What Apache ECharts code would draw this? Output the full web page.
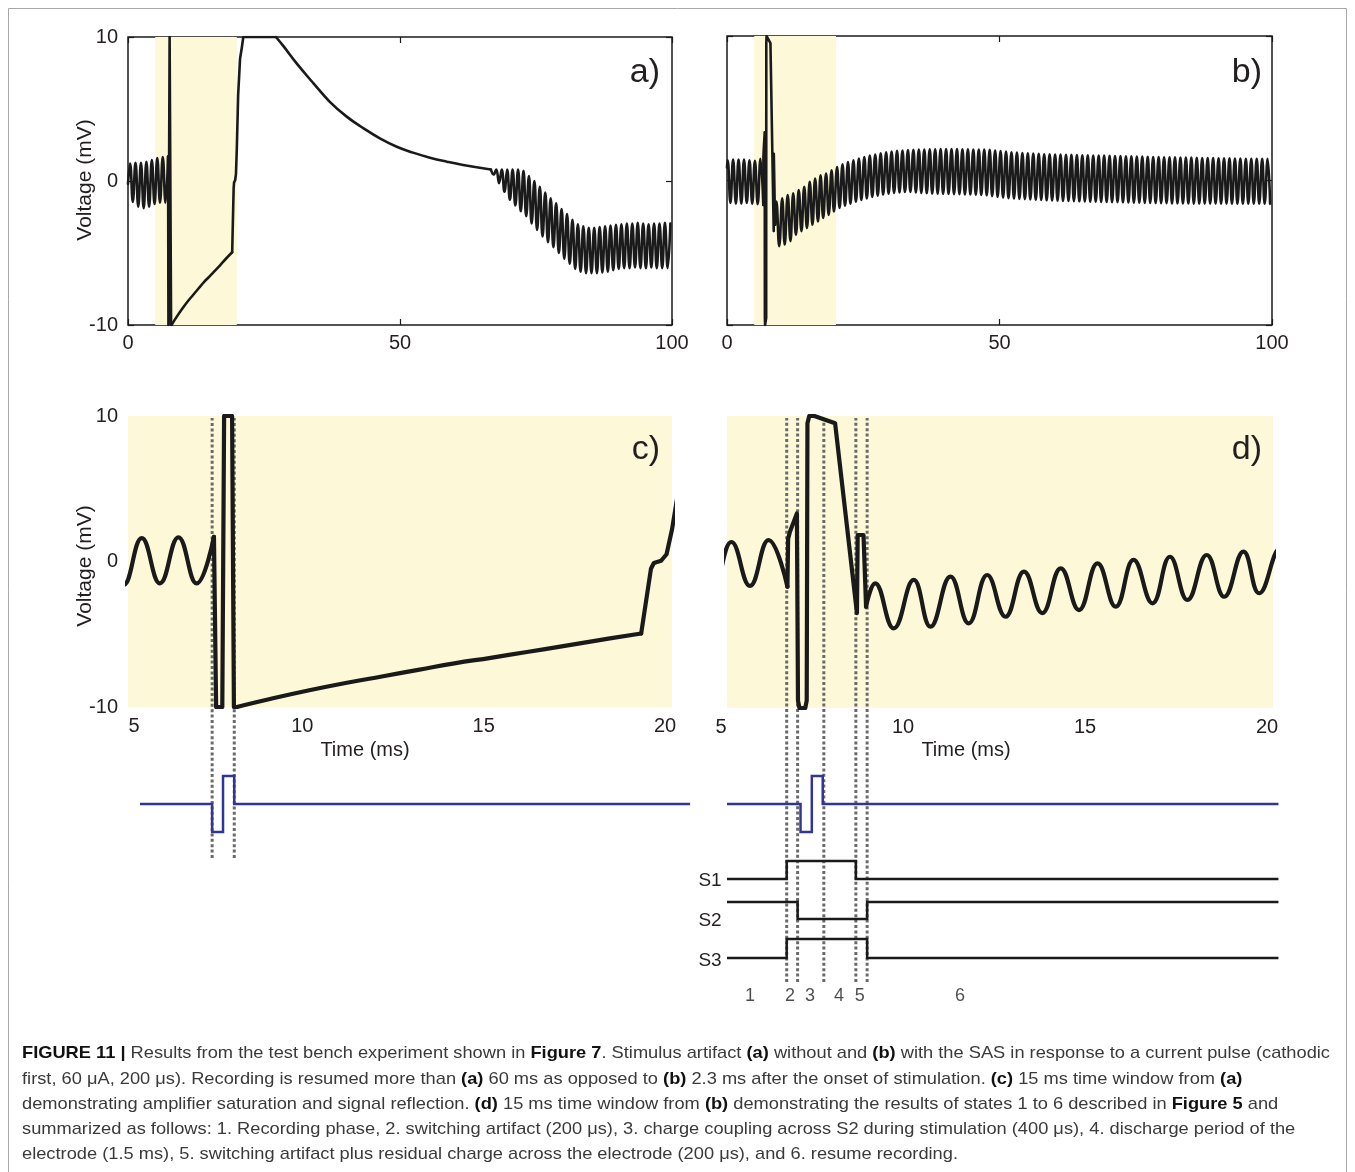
<!DOCTYPE html>
<html>
<head>
<meta charset="utf-8">
<title>Figure 11</title>
<script src="https://cdn.jsdelivr.net/npm/echarts@6.0.0/dist/echarts.min.js"></script>
<style>
  html, body { margin: 0; padding: 0; background: #fff; }
  #main { width: 1355px; height: 1172px; }
</style>
</head>
<body>
<div id="main"></div>
<script>
// tick labels
const fullTicks = [0, 50, 100];       // a), b) time axis (ms)
const zoomTicks = [5, 10, 15, 20];    // c), d) time axis (ms)
const voltTicks = [-10, 0, 10];       // mV
const stimWindow = [5, 20];           // shaded window in a), b)

// ---- trace without SAS: a) and c) [ms, mV] ----
const aPre = [[0, -0.2], [0.38, 1.22], [0.88, -1.45], [1.38, 1.27], [1.88, -1.78], [2.38, 1.27], [2.88, -1.89],
  [3.38, 1.34], [3.88, -1.78], [4.38, 1.45], [4.88, -1.6], [5.38, 1.6], [5.88, -1.5], [6.39, 1.66], [6.89, -1.5], [7.37, 1.7]];
const aSpike = [[7.37, 1.7], [7.43, -10], [7.6, -10], [7.65, 10], [7.87, 10], [7.92, -10], [8.0, -10]];
const aRecover = [[8.0, -10], [9, -9.4], [10, -8.85], [11, -8.35], [12, -7.9], [13, -7.45], [14, -7.0],
  [15, -6.62], [16, -6.22], [17, -5.82], [18, -5.4], [19.15, -4.95]];
const aJump = [[19.15, -4.95], [19.42, -0.5], [19.5, -0.1], [19.7, 0.05], [19.85, 0.5], [20.0, 2.2],
  [20.25, 6.0], [20.6, 8.5], [20.9, 9.2], [21.2, 10], [27.2, 10]];
const aDecay = [[27.2, 10], [28.5, 9.4], [31.0, 8.17], [34.1, 6.78], [37.1, 5.5], [40.2, 4.47], [43.3, 3.66],
  [46.3, 2.96], [49.4, 2.38], [52.4, 1.97], [55.5, 1.62], [58.6, 1.34], [61.6, 1.11], [66.7, 0.8]];
// recovered recording in a): one trough and one peak per 1 ms cycle
const aCycleStart = 67.2;
const aTroughs = [0.45, -0.15, -0.75, -1.3, -1.7, -2.1, -2.45, -2.95, -3.4, -3.85, -4.25, -4.6, -5.0, -5.4,
  -5.75, -6.1, -6.3, -6.4, -6.4, -6.4, -6.35, -6.3, -6.2, -6.1, -6.05, -6.05, -6.0, -6.05, -6.05, -6.0, -6.05, -6.05, -6.05];
const aPeaks = [0.8, 0.8, 0.8, 0.8, 0.8, 0.7, 0.35, 0.0, -0.4, -0.8, -1.2, -1.55, -1.95, -2.3, -2.7, -3.0,
  -3.15, -3.25, -3.25, -3.2, -3.15, -3.1, -3.05, -3.0, -2.95, -2.95, -2.9, -2.95, -3.0, -2.95, -2.95, -2.9, -2.95];

// ---- trace with SAS: b) and d) ----
const bPre = [[0, 0.9], [0.12, 1.4], [0.63, -1.55], [1.12, 1.45], [1.63, -1.6], [2.12, 1.45], [2.63, -1.6],
  [3.12, 1.45], [3.63, -1.55], [4.12, 1.4], [4.63, -1.6], [5.12, 1.37], [5.63, -1.64], [6.14, 1.5], [6.66, -1.69]];
const bArtifact = [[6.66, -1.69], [6.68, 1.6], [6.73, 2.07], [6.92, 3.33], [6.95, -9.5], [6.99, -10], [7.15, -10],
  [7.19, -9.5], [7.21, 9.5], [7.26, 10], [7.4, 10], [7.97, 9.5], [8.57, -3.5], [8.59, 1.85], [8.75, 1.85], [8.82, -3.06]];
const bResume = [[8.82, -3.06], [9.07, -1.46], [9.58, -4.55], [10.13, -1.23], [10.59, -4.43], [11.14, -1.0],
  [11.64, -4.2], [12.15, -0.89], [12.65, -3.75], [13.16, -0.66], [13.66, -3.5], [14.17, -0.43], [14.67, -3.29],
  [15.18, -0.09], [15.68, -3.06], [16.17, 0.14], [16.69, -2.83], [17.17, 0.36], [17.65, -2.6], [18.18, 0.48],
  [18.66, -2.38], [19.19, 0.71], [19.62, -2.14]];
const bCycleStart = 20.2;
const bPeaks = [0.93, 1.12, 1.28, 1.4, 1.52, 1.62, 1.72, 1.8, 1.88, 1.95, 2.0, 2.05, 2.08, 2.11, 2.13, 2.15,
  2.15, 2.16, 2.16, 2.17, 2.17, 2.17, 2.17, 2.16, 2.16, 2.15, 2.15, 2.14,
  2.12, 2.08, 2.04, 2.0, 1.96, 1.93, 1.9, 1.88, 1.86, 1.84, 1.82, 1.81, 1.8, 1.79, 1.78, 1.77, 1.76, 1.75, 1.74,
  1.73, 1.72, 1.72, 1.71, 1.70, 1.69, 1.68, 1.67, 1.66, 1.65, 1.64, 1.63,
  1.62, 1.61, 1.61, 1.60, 1.59, 1.58, 1.58, 1.57, 1.56, 1.55, 1.55, 1.54,
  1.53, 1.53, 1.52, 1.52, 1.51, 1.51, 1.50, 1.50, 1.50];
const bTroughs = [-1.9, -1.74, -1.6, -1.47, -1.35, -1.24, -1.14, -1.05, -0.97, -0.91, -0.86, -0.82, -0.8, -0.8, -0.82, -0.86,
  -0.88, -0.9, -0.91, -0.92, -0.93, -0.94, -0.95, -0.96, -0.97, -0.98, -1.0, -1.03,
  -1.08, -1.13, -1.18, -1.22, -1.25, -1.27, -1.29, -1.31, -1.33, -1.35, -1.37, -1.38, -1.4, -1.41, -1.42, -1.43, -1.44, -1.45, -1.46,
  -1.47, -1.48, -1.49, -1.5, -1.5, -1.51, -1.52, -1.53, -1.54, -1.55, -1.55, -1.56,
  -1.57, -1.57, -1.58, -1.58, -1.59, -1.59, -1.6, -1.6, -1.6, -1.6, -1.6, -1.6,
  -1.6, -1.61, -1.6, -1.6, -1.61, -1.6, -1.6, -1.61, -1.6];

// ---- stimulus pulse and switch states (levels, step changes at these times) ----
const pulseC = [[5.33, 0], [7.32, -1], [7.62, 1], [7.93, 0], [20.5, 0]];
const pulseD = [[5.0, 0], [7.02, -1], [7.33, 1], [7.63, 0], [20.15, 0]];
const switchS1 = [[5.0, 0], [6.64, 1], [8.54, 0], [20.15, 0]];
const switchS2 = [[5.0, 1], [6.94, 0], [8.85, 1], [20.15, 1]];
const switchS3 = [[5.0, 0], [6.64, 1], [8.85, 0], [20.15, 0]];
const markersC = [7.32, 7.93];
const markersD = [6.64, 6.94, 7.66, 8.54, 8.85];
const stateNames = ['1', '2', '3', '4', '5', '6'];
const stateTimes = [5.63, 6.73, 7.28, 8.08, 8.65, 11.4];

const captionLines = [
  '{b|FIGURE 11 |} Results from the test bench experiment shown in {b|Figure 7}. Stimulus artifact {b|(a)} without and {b|(b)} with the SAS in response to a current pulse (cathodic',
  'first, 60 \u03bcA, 200 \u03bcs). Recording is resumed more than {b|(a)} 60 ms as opposed to {b|(b)} 2.3 ms after the onset of stimulation. {b|(c)} 15 ms time window from {b|(a)}',
  'demonstrating amplifier saturation and signal reflection. {b|(d)} 15 ms time window from {b|(b)} demonstrating the results of states 1 to 6 described in {b|Figure 5} and',
  'summarized as follows: 1. Recording phase, 2. switching artifact (200 \u03bcs), 3. charge coupling across S2 during stimulation (400 \u03bcs), 4. discharge period of the',
  'electrode (1.5 ms), 5. switching artifact plus residual charge across the electrode (200 \u03bcs), and 6. resume recording.'
];

// build the periodic parts from the per-cycle extremes
const aPost = [[66.7, 0.8]];
aTroughs.forEach((v, i) => {
  aPost.push([aCycleStart + i, v]);
  aPost.push([aCycleStart + 0.5 + i, aPeaks[i]]);
});
const bPost = bResume.slice();
bPeaks.forEach((v, i) => {
  bPost.push([bCycleStart + i, v]);
  bPost.push([bCycleStart + 0.45 + i, bTroughs[i]]);
});

const aParts = [[aPre, true], [aSpike, false], [aRecover, true], [aJump, false], [aDecay, true], [aPost, true]];
const bParts = [[bPre, true], [bArtifact, false], [bPost, true]];

const INK = '#1a1a1a';
const YEL = '#fcf8d8';
const BLUE = '#30359a';
const FONT = 'Liberation Sans';
const LAB = { fontFamily: FONT, fontSize: 20, color: '#231f20' };

const chart = echarts.init(document.getElementById('main'));

// px per ms in the zoomed panels, used to let the lower traces run past 20 ms
const cPx = 544 / 15, dPx = 546 / 15;
const grids = [
  { left: 128, top: 37, width: 544, height: 288, show: true, borderColor: INK, borderWidth: 1.5, backgroundColor: 'transparent' },
  { left: 727, top: 36, width: 545, height: 289, show: true, borderColor: INK, borderWidth: 1.5, backgroundColor: 'transparent' },
  { left: 128, top: 416, width: 544, height: 291, show: true, borderWidth: 0, backgroundColor: YEL },
  { left: 727, top: 416, width: 546, height: 292, show: true, borderWidth: 0, backgroundColor: YEL },
  { left: 128, top: 418, width: 544, height: 440 },   // dotted markers c)
  { left: 727, top: 418, width: 546, height: 564 },   // dotted markers d)
  { left: 128, top: 776, width: cPx * 15.5, height: 56 },    // pulse c)
  { left: 727, top: 776, width: dPx * 15.2, height: 56 },    // pulse d)
  { left: 727, top: 861, width: dPx * 15.2, height: 18 },    // S1
  { left: 727, top: 902, width: dPx * 15.2, height: 17 },    // S2
  { left: 727, top: 939, width: dPx * 15.2, height: 19 },    // S3
  { left: 727, top: 985, width: 546, height: 22 }     // state numbers
].map(g => Object.assign({ outerBoundsMode: 'none' }, g));
const hiddenMax = [20, 20, 20.5, 20.2, 20.2, 20.2, 20.2, 20];  // grids 4..11

const tickIn = () => ({ inside: true, length: 6, lineStyle: { color: INK, width: 1.2 } });
const noLine = () => ({ show: false, onZero: false });
const step = t => t[1] - t[0];
const xAxes = [
  { gridIndex: 0, position: 'bottom', min: fullTicks[0], max: fullTicks[2], interval: step(fullTicks), axisLine: noLine(), axisTick: tickIn(), axisLabel: Object.assign({ margin: 8 }, LAB) },
  { gridIndex: 1, position: 'bottom', min: fullTicks[0], max: fullTicks[2], interval: step(fullTicks), axisLine: noLine(), axisTick: tickIn(), axisLabel: Object.assign({ margin: 8 }, LAB) },
  { gridIndex: 2, position: 'bottom', min: zoomTicks[0], max: zoomTicks[3], interval: step(zoomTicks), axisLine: noLine(), axisTick: { show: false },
    axisLabel: Object.assign({ margin: 9, formatter: v => (v === zoomTicks[0] ? '{r|' + v + '}' : '{s|' + v + '}'),
      rich: { s: Object.assign({ padding: [0, 14, 0, 0] }, LAB), r: Object.assign({ padding: [0, 0, 0, 12] }, LAB) } }, LAB) },
  { gridIndex: 3, position: 'bottom', min: zoomTicks[0], max: zoomTicks[3], interval: step(zoomTicks), axisLine: noLine(), axisTick: { show: false },
    axisLabel: Object.assign({ margin: 9, formatter: v => '{s|' + v + '}', rich: { s: Object.assign({ padding: [0, 12, 0, 0] }, LAB) } }, LAB) }
];
for (let g = 4; g <= 11; g++) {
  xAxes.push({ gridIndex: g, min: zoomTicks[0], max: hiddenMax[g - 4], show: false, axisLine: noLine() });
}
xAxes.push({ gridIndex: 0, position: 'top', min: fullTicks[0], max: fullTicks[2], interval: step(fullTicks), axisLine: noLine(), axisTick: tickIn(), axisLabel: { show: false } });
xAxes.push({ gridIndex: 1, position: 'top', min: fullTicks[0], max: fullTicks[2], interval: step(fullTicks), axisLine: noLine(), axisTick: tickIn(), axisLabel: { show: false } });

const vAxis = (g, extra) => Object.assign({ gridIndex: g, position: 'left', min: voltTicks[0], max: voltTicks[2], interval: step(voltTicks), axisLine: noLine() }, extra);
const yAxes = [
  vAxis(0, { axisTick: tickIn(), axisLabel: Object.assign({ margin: 10 }, LAB) }),
  vAxis(1, { axisTick: tickIn(), axisLabel: { show: false } }),
  vAxis(2, { axisTick: { show: false }, axisLabel: Object.assign({ margin: 10 }, LAB) }),
  vAxis(3, { axisTick: { show: false }, axisLabel: { show: false } }),
  { gridIndex: 4, min: 0, max: 1, show: false },
  { gridIndex: 5, min: 0, max: 1, show: false },
  { gridIndex: 6, min: -1, max: 1, show: false },
  { gridIndex: 7, min: -1, max: 1, show: false },
  { gridIndex: 8, min: 0, max: 1, show: false },
  { gridIndex: 9, min: 0, max: 1, show: false },
  { gridIndex: 10, min: 0, max: 1, show: false },
  { gridIndex: 11, min: -1, max: 1, show: false },
  vAxis(0, { position: 'right', axisTick: tickIn(), axisLabel: { show: false } }),
  vAxis(1, { position: 'right', axisTick: tickIn(), axisLabel: { show: false } })
];
xAxes.forEach(a => { a.type = 'value'; a.splitLine = { show: false }; if (!a.axisLine) a.axisLine = noLine(); });
yAxes.forEach(a => { a.type = 'value'; a.splitLine = { show: false }; if (!a.axisLine) a.axisLine = noLine(); });

const series = [];
// shaded stimulation window in a) and b)
[0, 1].forEach(k => series.push({
  type: 'line', xAxisIndex: k, yAxisIndex: k, data: [[50, 0]], symbol: 'none', silent: true, z: 1,
  lineStyle: { width: 0 },
  markArea: { silent: true, itemStyle: { color: YEL }, data: [[{ xAxis: stimWindow[0] }, { xAxis: stimWindow[1] }]] }
}));

function addTrace(parts, axis, width) {
  parts.forEach(([data, smooth]) => series.push({
    type: 'line', xAxisIndex: axis, yAxisIndex: axis, data, smooth: smooth ? 0.45 : false,
    symbol: 'none', silent: true, z: 4,
    lineStyle: { color: INK, width, join: 'round', cap: 'round' }
  }));
}
addTrace(aParts, 0, 2.6);
addTrace(bParts, 1, 2.6);
addTrace(aParts, 2, 4.2);
addTrace(bParts, 3, 4.2);

function marker(t, axis) {
  return {
    type: 'line', xAxisIndex: axis, yAxisIndex: axis, data: [[t, 0], [t, 1]], symbol: 'none', silent: true, z: 2,
    lineStyle: { color: '#6a6a6a', width: 3, type: [3, 2.4], cap: 'butt' }
  };
}
markersC.forEach(t => series.push(marker(t, 4)));
markersD.forEach(t => series.push(marker(t, 5)));

function stepLine(data, axis, color) {
  return {
    type: 'line', xAxisIndex: axis, yAxisIndex: axis, data, step: 'end', clip: false, symbol: 'none', silent: true, z: 3,
    lineStyle: { color, width: 2.5, join: 'miter' }
  };
}
series.push(stepLine(pulseC, 6, BLUE));
series.push(stepLine(pulseD, 7, BLUE));
series.push(stepLine(switchS1, 8, INK));
series.push(stepLine(switchS2, 9, INK));
series.push(stepLine(switchS3, 10, INK));

series.push({
  type: 'scatter', xAxisIndex: 11, yAxisIndex: 11, silent: true, symbolSize: 1,
  itemStyle: { color: 'rgba(0,0,0,0)' },
  data: stateTimes.map((t, i) => ({ value: [t, 0], name: stateNames[i] })),
  label: { show: true, position: 'inside', formatter: p => p.name, fontFamily: FONT, fontSize: 18, color: '#231f20' }
});

// caption: condensed to the printed line width
function richWidth(line, size) {
  const ctx = document.createElement('canvas').getContext('2d');
  let w = 0;
  line.split(/(\{b\|[^}]*\})/).forEach(part => {
    const m = part.match(/^\{b\|([^}]*)\}$/);
    ctx.font = (m ? 'bold ' : '') + size + 'px "' + FONT + '"';
    w += ctx.measureText(m ? m[1] : part).width;
  });
  return w;
}
const capSize = 17;
const capScale = 1308 / richWidth(captionLines[0], capSize);
const capY = [1053, 1079, 1104, 1129, 1154];

const txt = (x, y, text, size, extra, align) => Object.assign({
  type: 'text', x, y, silent: true,
  style: { text, fill: '#231f20', font: size + 'px "' + FONT + '"', textAlign: align || 'center', textVerticalAlign: 'middle' }
}, extra || {});

const graphic = [
  { type: 'rect', silent: true, shape: { x: 8.5, y: 8.5, width: 1338, height: 1200 }, style: { fill: 'none', stroke: '#a8a8a8', lineWidth: 1 } },
  txt(660, 73, 'a)', 34, null, 'right'),
  txt(1262, 73, 'b)', 34, null, 'right'),
  txt(660, 450, 'c)', 34, null, 'right'),
  txt(1262, 450, 'd)', 34, null, 'right'),
  txt(85, 180, 'Voltage (mV)', 21, { rotation: Math.PI / 2 }),
  txt(85, 566, 'Voltage (mV)', 21, { rotation: Math.PI / 2 }),
  txt(365, 750, 'Time (ms)', 20),
  txt(966, 750, 'Time (ms)', 20),
  txt(710, 881, 'S1', 19),
  txt(710, 921, 'S2', 19),
  txt(710, 961, 'S3', 19)
];
captionLines.forEach((line, i) => graphic.push({
  type: 'text', x: 22, y: capY[i], scaleX: capScale, silent: true,
  style: {
    text: line, fill: '#3a3a3a', font: capSize + 'px "' + FONT + '"', textAlign: 'left', textVerticalAlign: 'middle',
    rich: { b: { fill: '#111111', fontWeight: 'bold', fontSize: capSize, fontFamily: FONT } }
  }
}));

chart.setOption({
  animation: false,
  backgroundColor: '#ffffff',
  grid: grids,
  xAxis: xAxes,
  yAxis: yAxes,
  series,
  graphic
});
</script>
</body>
</html>
